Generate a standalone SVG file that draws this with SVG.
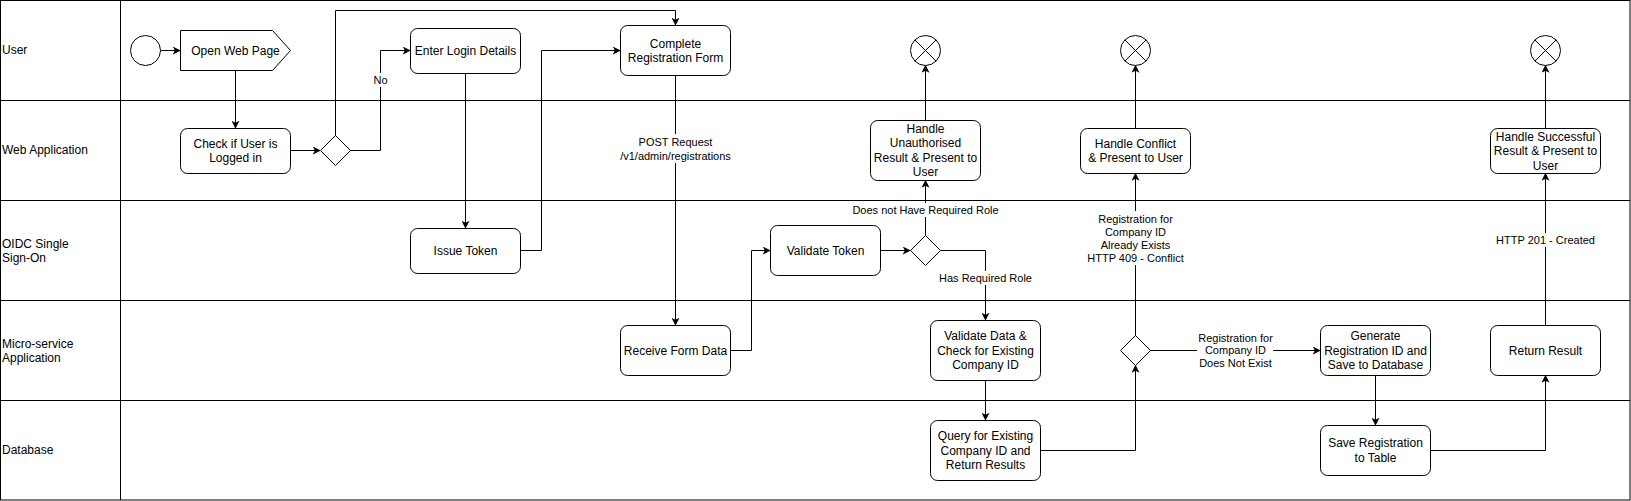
<svg xmlns="http://www.w3.org/2000/svg" width="1631" height="501" viewBox="0 0 1631 501">
<defs>
<style>
text{font-family:"Liberation Sans",Arial,Helvetica,sans-serif;fill:#000}
.lane text{font-size:12px;text-anchor:start;dominant-baseline:central}
.node rect,.node path,.node circle{fill:#fff;stroke:#000;stroke-width:1}
.node text{font-size:12px;text-anchor:middle;dominant-baseline:central}
.node line{stroke:#000;stroke-width:1}
.edge{fill:none;stroke:#000;stroke-width:1;marker-end:url(#arr)}
.lbl{font-size:11px;text-anchor:middle;dominant-baseline:central}
.lblbg{fill:#fff;stroke:none}
</style>
<marker id="arr" viewBox="0 0 10 10" refX="9" refY="5" markerWidth="8" markerHeight="8" markerUnits="userSpaceOnUse" orient="auto">
<path d="M0,0 L10,5 L0,10 L2.5,5 z" fill="#000"/>
</marker>
</defs>
<rect x="0" y="0" width="1631" height="501" fill="#fff"/>
<g id="lanes" class="lane">
<rect x="0.5" y="0.5" width="1629.5" height="499.5" fill="none" stroke="#000"/>
<line x1="120.5" y1="0" x2="120.5" y2="500" stroke="#000"/>
<line x1="0" y1="100.5" x2="1630" y2="100.5" stroke="#000"/>
<line x1="0" y1="200.5" x2="1630" y2="200.5" stroke="#000"/>
<line x1="0" y1="300.5" x2="1630" y2="300.5" stroke="#000"/>
<line x1="0" y1="400.5" x2="1630" y2="400.5" stroke="#000"/>
<text x="2" y="50">User</text>
<text x="2" y="150">Web Application</text>
<text x="2" y="243.5">OIDC Single</text>
<text x="2" y="258">Sign-On</text>
<text x="2" y="343.5">Micro-service</text>
<text x="2" y="358">Application</text>
<text x="2" y="450">Database</text>
</g>
<g id="connectors">
<path class="edge" d="M160.5 50.5 L180 50.5"/>
<path class="edge" d="M235.5 70.5 L235.5 128"/>
<path class="edge" d="M290.5 150.5 L320 150.5"/>
<path class="edge" d="M335.5 135.5 L335.5 10.5 L675.5 10.5 L675.5 25"/>
<path class="edge" d="M350.5 150.5 L380.5 150.5 L380.5 50.5 L410 50.5"/>
<path class="edge" d="M465.5 73.5 L465.5 228"/>
<path class="edge" d="M520.5 250.5 L541.5 250.5 L541.5 50.5 L620 50.5"/>
<path class="edge" d="M675.5 75.5 L675.5 325"/>
<path class="edge" d="M730.5 350.5 L751.5 350.5 L751.5 250.5 L770 250.5"/>
<path class="edge" d="M880.5 250.5 L910 250.5"/>
<path class="edge" d="M925.5 235.5 L925.5 180.5"/>
<path class="edge" d="M925.5 120.5 L925.5 65.5"/>
<path class="edge" d="M940.5 250.5 L985.5 250.5 L985.5 320"/>
<path class="edge" d="M985.5 380.5 L985.5 420"/>
<path class="edge" d="M1040.5 450.5 L1135.5 450.5 L1135.5 365.5"/>
<path class="edge" d="M1135.5 335.5 L1135.5 173.5"/>
<path class="edge" d="M1135.5 128.5 L1135.5 65.5"/>
<path class="edge" d="M1150.5 350.5 L1320 350.5"/>
<path class="edge" d="M1375.5 375.5 L1375.5 425"/>
<path class="edge" d="M1430.5 450.5 L1545.5 450.5 L1545.5 375.5"/>
<path class="edge" d="M1545.5 325.5 L1545.5 173.5"/>
<path class="edge" d="M1545.5 128.5 L1545.5 65.5"/>
<rect class="lblbg" x="373" y="73" width="15" height="14"/>
<text class="lbl" x="380.5" y="80">No</text>
<rect class="lblbg" x="625" y="134" width="101" height="29"/>
<text class="lbl" x="675.5" y="142">POST Request</text>
<text class="lbl" x="675.5" y="156">/v1/admin/registrations</text>
<rect class="lblbg" x="852" y="203" width="147" height="14"/>
<text class="lbl" x="925.5" y="210">Does not Have Required Role</text>
<rect class="lblbg" x="936" y="271" width="99" height="14"/>
<text class="lbl" x="985.5" y="278">Has Required Role</text>
<rect class="lblbg" x="1085" y="211" width="101" height="54"/>
<text class="lbl" x="1135.5" y="218.5">Registration for</text>
<text class="lbl" x="1135.5" y="231.5">Company ID</text>
<text class="lbl" x="1135.5" y="244.5">Already Exists</text>
<text class="lbl" x="1135.5" y="257.5">HTTP 409 - Conflict</text>
<rect class="lblbg" x="1197" y="330" width="76" height="40"/>
<text class="lbl" x="1235.5" y="337.5">Registration for</text>
<text class="lbl" x="1235.5" y="350">Company ID</text>
<text class="lbl" x="1235.5" y="362.5">Does Not Exist</text>
<rect class="lblbg" x="1495" y="233" width="101" height="14"/>
<text class="lbl" x="1545.5" y="240">HTTP 201 - Created</text>
</g>
<g id="start" class="node"><circle cx="145.5" cy="50.5" r="15"/></g>
<g id="open-web-page" class="node"><path d="M180.5 30.5 L272.5 30.5 L290.5 50.5 L272.5 70.5 L180.5 70.5 Z"/><text x="235.5" y="50.5">Open Web Page</text></g>
<g id="check-logged-in" class="node"><rect x="180.5" y="128.5" width="110" height="45" rx="7"/><text x="235.5" y="143.5">Check if User is</text><text x="235.5" y="158">Logged in</text></g>
<g id="gw-logged-in" class="node"><path d="M335.5 135.5 L350.5 150.5 L335.5 165.5 L320.5 150.5 Z"/></g>
<g id="enter-login" class="node"><rect x="410.5" y="28.5" width="110" height="45" rx="7"/><text x="465.5" y="50.5">Enter Login Details</text></g>
<g id="issue-token" class="node"><rect x="410.5" y="228.5" width="110" height="45" rx="7"/><text x="465.5" y="250.5">Issue Token</text></g>
<g id="complete-form" class="node"><rect x="620.5" y="25.5" width="110" height="50" rx="7"/><text x="675.5" y="43.5">Complete</text><text x="675.5" y="58">Registration Form</text></g>
<g id="receive-form" class="node"><rect x="620.5" y="325.5" width="110" height="50" rx="7"/><text x="675.5" y="350.5">Receive Form Data</text></g>
<g id="validate-token" class="node"><rect x="770.5" y="225.5" width="110" height="50" rx="7"/><text x="825.5" y="250.5">Validate Token</text></g>
<g id="gw-role" class="node"><path d="M925.5 235.5 L940.5 250.5 L925.5 265.5 L910.5 250.5 Z"/></g>
<g id="handle-unauth" class="node"><rect x="870.5" y="120.5" width="110" height="60" rx="7"/><text x="925.5" y="129">Handle</text><text x="925.5" y="143.4">Unauthorised</text><text x="925.5" y="157.8">Result &amp; Present to</text><text x="925.5" y="172.2">User</text></g>
<g id="end-unauth" class="node"><circle cx="925.5" cy="50.5" r="15"/><line x1="914.9" y1="39.9" x2="936.1" y2="61.1"/><line x1="936.1" y1="39.9" x2="914.9" y2="61.1"/></g>
<g id="validate-data" class="node"><rect x="930.5" y="320.5" width="110" height="60" rx="7"/><text x="985.5" y="336">Validate Data &amp;</text><text x="985.5" y="350.5">Check for Existing</text><text x="985.5" y="365">Company ID</text></g>
<g id="query-company" class="node"><rect x="930.5" y="420.5" width="110" height="60" rx="7"/><text x="985.5" y="436">Query for Existing</text><text x="985.5" y="450.5">Company ID and</text><text x="985.5" y="465">Return Results</text></g>
<g id="gw-exists" class="node"><path d="M1135.5 335.5 L1150.5 350.5 L1135.5 365.5 L1120.5 350.5 Z"/></g>
<g id="handle-conflict" class="node"><rect x="1080.5" y="128.5" width="110" height="45" rx="7"/><text x="1135.5" y="143.5">Handle Conflict</text><text x="1135.5" y="158">&amp; Present to User</text></g>
<g id="end-conflict" class="node"><circle cx="1135.5" cy="50.5" r="15"/><line x1="1124.9" y1="39.9" x2="1146.1" y2="61.1"/><line x1="1146.1" y1="39.9" x2="1124.9" y2="61.1"/></g>
<g id="generate-id" class="node"><rect x="1320.5" y="325.5" width="110" height="50" rx="7"/><text x="1375.5" y="336">Generate</text><text x="1375.5" y="350.5">Registration ID and</text><text x="1375.5" y="365">Save to Database</text></g>
<g id="save-registration" class="node"><rect x="1320.5" y="425.5" width="110" height="50" rx="7"/><text x="1375.5" y="443">Save Registration</text><text x="1375.5" y="458">to Table</text></g>
<g id="return-result" class="node"><rect x="1490.5" y="325.5" width="110" height="50" rx="7"/><text x="1545.5" y="350.5">Return Result</text></g>
<g id="handle-success" class="node"><rect x="1490.5" y="128.5" width="110" height="45" rx="7"/><text x="1545.5" y="136.5">Handle Successful</text><text x="1545.5" y="151">Result &amp; Present to</text><text x="1545.5" y="165.5">User</text></g>
<g id="end-success" class="node"><circle cx="1545.5" cy="50.5" r="15"/><line x1="1534.9" y1="39.9" x2="1556.1" y2="61.1"/><line x1="1556.1" y1="39.9" x2="1534.9" y2="61.1"/></g>
</svg>
